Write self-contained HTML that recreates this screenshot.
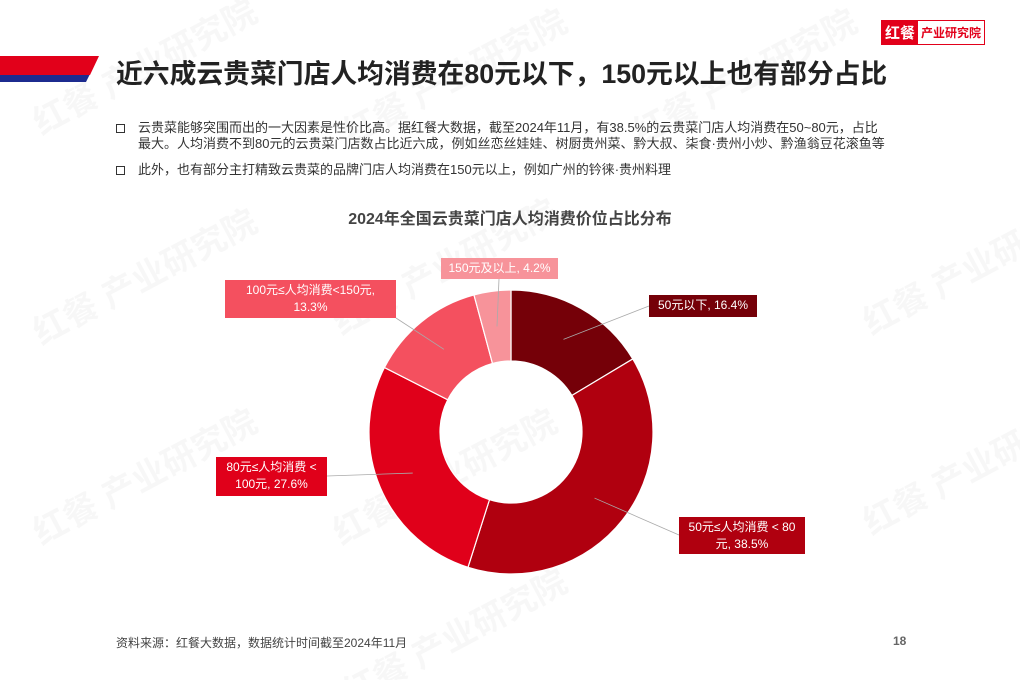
<!DOCTYPE html>
<html><head><meta charset="utf-8">
<style>
html,body{margin:0;width:1020px;height:680px;background:#fff;overflow:hidden;position:relative;font-family:"Liberation Sans","Noto Sans CJK SC",sans-serif;color:#333}
.abs{position:absolute}
.wm{position:absolute;color:rgba(0,0,0,0.03);font-size:34px;font-weight:bold;transform:rotate(-28deg);white-space:nowrap}
.lbl{position:absolute;color:#fff;font-size:12px;line-height:17px;text-align:center;padding:2px 4px;box-sizing:border-box}
</style></head><body>
<div class="wm" style="left:20px;top:40px">红餐 产业研究院</div>
<div class="wm" style="left:330px;top:50px">红餐 产业研究院</div>
<div class="wm" style="left:620px;top:50px">红餐 产业研究院</div>
<div class="wm" style="left:20px;top:250px">红餐 产业研究院</div>
<div class="wm" style="left:320px;top:240px">红餐 产业研究院</div>
<div class="wm" style="left:850px;top:240px">红餐 产业研究院</div>
<div class="wm" style="left:20px;top:450px">红餐 产业研究院</div>
<div class="wm" style="left:320px;top:450px">红餐 产业研究院</div>
<div class="wm" style="left:850px;top:440px">红餐 产业研究院</div>
<div class="wm" style="left:330px;top:610px">红餐 产业研究院</div>

<svg class="abs" style="left:0;top:0" width="110" height="90">
<polygon points="0,74 90,74 86,82 0,82" fill="#1c2b8f"/>
<polygon points="0,56 99,56 90,75 0,75" fill="#e2001a"/>
</svg>
<div class="abs" style="left:881px;top:20px;width:104px;height:25px;border:1px solid #e2001a;box-sizing:border-box;display:flex;align-items:center;font-weight:bold">
<span style="background:#e2001a;color:#fff;font-size:15px;height:100%;display:flex;align-items:center;padding:0 3px">红餐</span><span style="color:#e2001a;font-size:12px;padding-left:3px">产业研究院</span></div>
<div class="abs" style="left:116px;top:52px;font-size:26.8px;font-weight:bold;color:#222;white-space:nowrap">近六成云贵菜门店人均消费在80元以下，150元以上也有部分占比</div>

<div class="abs" style="left:116px;top:120px;font-size:13px;line-height:16px;width:820px;white-space:nowrap">
<span style="position:absolute;left:0;top:4px;width:7px;height:7px;border:1.5px solid #333"></span>
<div style="margin-left:22px">云贵菜能够突围而出的一大因素是性价比高。据红餐大数据，截至2024年11月，有38.5%的云贵菜门店人均消费在50~80元，占比<br>最大。人均消费不到80元的云贵菜门店数占比近六成，例如丝恋丝娃娃、树厨贵州菜、黔大叔、柒食·贵州小炒、黔渔翁豆花滚鱼等</div></div>
<div class="abs" style="left:116px;top:162px;font-size:13px;line-height:16px;width:820px;white-space:nowrap">
<span style="position:absolute;left:0;top:4px;width:7px;height:7px;border:1.5px solid #333"></span>
<div style="margin-left:22px">此外，也有部分主打精致云贵菜的品牌门店人均消费在150元以上，例如广州的钤徕·贵州料理</div></div>

<div class="abs" style="left:0;width:1020px;top:205px;text-align:center;font-size:16px;font-weight:bold;color:#444">2024年全国云贵菜门店人均消费价位占比分布</div>

<svg id="chart" class="abs" style="left:0;top:0" width="1020" height="680"></svg>

<div class="lbl" style="left:441px;top:258px;width:117px;height:21px;background:#f7939a">150元及以上, 4.2%</div>
<div class="lbl" style="left:225px;top:280px;width:171px;height:38px;background:#f4505f">100元≤人均消费<150元,<br>13.3%</div>
<div class="lbl" style="left:649px;top:295px;width:108px;height:22px;background:#750008">50元以下, 16.4%</div>
<div class="lbl" style="left:216px;top:457px;width:111px;height:39px;background:#e0001a">80元≤人均消费 <<br>100元, 27.6%</div>
<div class="lbl" style="left:679px;top:517px;width:126px;height:37px;background:#b0000f">50元≤人均消费 < 80<br>元, 38.5%</div>

<div class="abs" style="left:116px;top:634px;font-size:12px;color:#444">资料来源：红餐大数据，数据统计时间截至2024年11月</div>
<div class="abs" style="left:893px;top:634px;font-size:12px;font-weight:bold;color:#666">18</div>

<script>
const categories=["50元以下","50元≤人均消费<80元","80元≤人均消费<100元","100元≤人均消费<150元","150元及以上"];
const values=[16.4,38.5,27.6,13.3,4.2];
const colors=["#750008","#b0000f","#e0001a","#f4505f","#f7939a"];
const svg=document.getElementById('chart');
const NS="http://www.w3.org/2000/svg";
const cx=511,cy=432,R=142,r=71;
const total=values.reduce((a,b)=>a+b,0);
function pt(a,rad){return [cx+rad*Math.sin(a),cy-rad*Math.cos(a)];}
let start=0;
const mids=[];
values.forEach((v,i)=>{
  const end=start+v/total*2*Math.PI;
  const large=(end-start)>Math.PI?1:0;
  const [x1,y1]=pt(start,R),[x2,y2]=pt(end,R),[x3,y3]=pt(end,r),[x4,y4]=pt(start,r);
  const p=document.createElementNS(NS,'path');
  p.setAttribute('d',`M${x1},${y1}A${R},${R} 0 ${large} 1 ${x2},${y2}L${x3},${y3}A${r},${r} 0 ${large} 0 ${x4},${y4}Z`);
  p.setAttribute('fill',colors[i]);p.setAttribute('stroke','#fff');p.setAttribute('stroke-width','1.2');
  
  
  svg.appendChild(p);
  mids.push((start+end)/2);
  start=end;
});
const ends=[[649,306],[679,535],[327,476],[396,318],[499,279]];
mids.forEach((m,i)=>{
  const [x,y]=pt(m,(R+r)/2);
  const l=document.createElementNS(NS,'line');
  l.setAttribute('x1',x);l.setAttribute('y1',y);l.setAttribute('x2',ends[i][0]);l.setAttribute('y2',ends[i][1]);
  l.setAttribute('stroke','#aaa');l.setAttribute('stroke-width','0.8');
  
  
  svg.appendChild(l);
});
</script>
</body></html>
